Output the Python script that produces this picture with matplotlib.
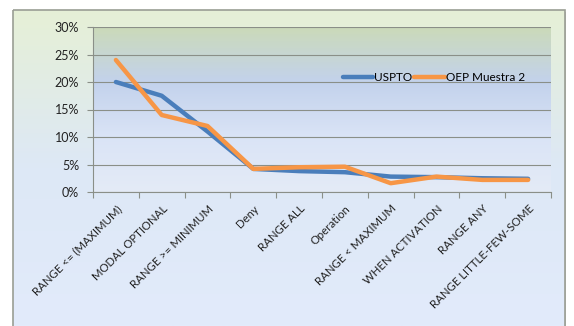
import numpy as np
import matplotlib
matplotlib.use("Agg")
import matplotlib.pyplot as plt
from matplotlib.colors import LinearSegmentedColormap
from matplotlib.patches import Rectangle
from matplotlib.ticker import PercentFormatter

categories = ["RANGE <= (MAXIMUM)", "MODAL OPTIONAL", "RANGE >= MINIMUM", "Deny",
              "RANGE ALL", "Operation", "RANGE < MAXIMUM", "WHEN ACTIVATION",
              "RANGE ANY", "RANGE LITTLE-FEW-SOME"]
uspto = [20.0, 17.5, 11.0, 4.2, 3.8, 3.6, 2.8, 2.7, 2.5, 2.4]
oep_muestra2 = [24.0, 14.0, 12.0, 4.2, 4.5, 4.6, 1.6, 2.8, 2.2, 2.2]

W, H = 574, 326
plt.rcParams['font.family'] = ['Lato', 'DejaVu Sans']
fig = plt.figure(figsize=(W / 100, H / 100), dpi=100)
fig.patch.set_facecolor("white")

# outer chart frame with gradient
bg = fig.add_axes([0, 0, 1, 1], zorder=0)
bg.set_xlim(0, W)
bg.set_ylim(H, 0)
bg.axis("off")
outer = LinearSegmentedColormap.from_list("outer", ["#e6f0d6", "#dde8f6", "#e2ebfb"])
grad = np.linspace(0, 1, 256).reshape(-1, 1)
bg.add_patch(Rectangle((15, 12), W - 8 - 15, H, facecolor="#c4c6be", edgecolor="none"))
bg.imshow(grad, cmap=outer, aspect="auto", extent=(13, W - 9, H, 10), zorder=1)
bg.add_patch(Rectangle((13, 10), W - 9 - 13, H, facecolor="none",
                       edgecolor="#9a9e94", linewidth=1.2, zorder=2))

# plot area
ax = fig.add_axes([93 / W, 1 - 192 / H, (551 - 93) / W, 165 / H], zorder=1)
inner = LinearSegmentedColormap.from_list("inner", ["#cbdab9", "#c3d2ec", "#dae4f6", "#e4ebf7"])
x = np.arange(len(categories))
ax.imshow(grad, cmap=inner, aspect="auto", extent=(-0.5, len(categories) - 0.5, 0, 30), zorder=0)

ax.plot(x, uspto, color="#4a7ebb", linewidth=3.2, solid_capstyle="round", label="USPTO", zorder=3)
ax.plot(x, oep_muestra2, color="#f79646", linewidth=3.2, solid_capstyle="round",
        label="OEP Muestra 2", zorder=4)

ax.set_xlim(-0.5, len(categories) - 0.5)
ax.set_ylim(0, 30)
ax.set_yticks(range(0, 31, 5))
ax.yaxis.set_major_formatter(PercentFormatter(decimals=0))
ax.grid(axis="y", color="#8a8f88", linewidth=0.8)
ax.set_axisbelow(False)
ax.set_xticks(np.arange(len(categories) + 1) - 0.5, minor=False)
ax.set_xticklabels([])
ax.set_xticks(x, minor=True)
ax.set_xticklabels(categories, minor=True, rotation=45, ha="right", va="top",
                   rotation_mode="anchor", fontsize=8.2, color="#222222")
ax.tick_params(axis="x", which="minor", length=0, pad=8)
ax.tick_params(axis="x", which="major", length=4, direction="out", color="#8a8f88")
ax.tick_params(axis="y", length=4, direction="out", color="#8a8f88", labelsize=9,
               labelcolor="#222222", pad=6)
for side in ["top", "right"]:
    ax.spines[side].set_visible(False)
ax.spines["left"].set_color("#8a8f88")
ax.spines["bottom"].set_color("#8a8f88")

ax.legend(loc="center left", bbox_to_anchor=(0.545, 0.695), ncol=2, frameon=False,
          fontsize=8.5, handlelength=2.6, handletextpad=0.05, columnspacing=0.2,
          borderaxespad=0, borderpad=0)

fig.savefig("out.png", dpi=100)
